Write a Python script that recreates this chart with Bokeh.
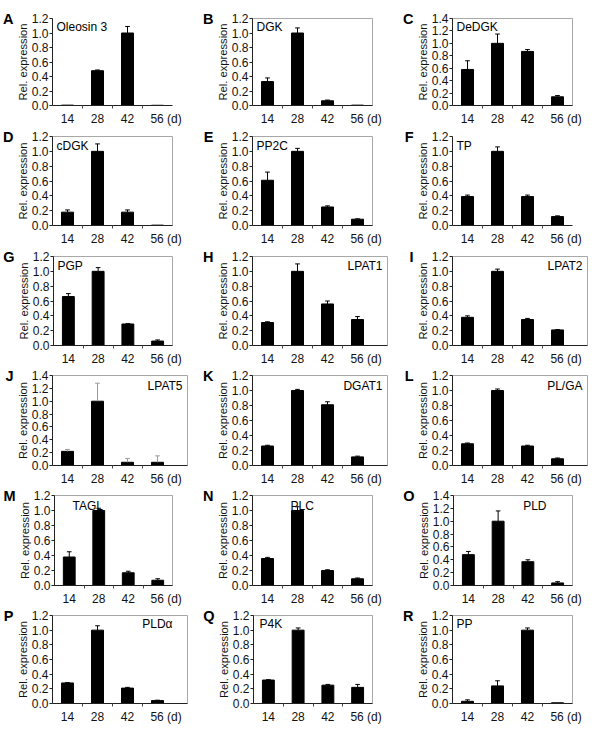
from bokeh.plotting import figure
from bokeh.layouts import column, row
from bokeh.models import FixedTicker, PrintfTickFormatter, Label, Range1d, LinearAxis
from bokeh.embed import file_html
from bokeh.resources import INLINE

days = [14, 28, 42, 56]
minor_days = [21, 35, 49]
day_unit = "(d)"
panel_letters = ["A", "B", "C", "D", "E", "F", "G", "H", "I",
                 "J", "K", "L", "M", "N", "O", "P", "Q", "R"]
gene_names = ["Oleosin 3", "DGK", "DeDGK", "cDGK", "PP2C", "TP", "PGP", "LPAT1", "LPAT2",
              "LPAT5", "DGAT1", "PL/GA", "TAGL", "PLC", "PLD", "PLDα", "P4K", "PP"]
y_max = [1.2, 1.2, 1.4, 1.2, 1.2, 1.2, 1.2, 1.2, 1.2,
         1.4, 1.2, 1.2, 1.2, 1.2, 1.4, 1.2, 1.2, 1.2]

oleosin3_mean = [0.005, 0.48, 1.0, 0.003]
oleosin3_err = [0.0, 0.01, 0.09, 0.0]
dgk_mean = [0.33, 1.0, 0.065, 0.005]
dgk_err = [0.05, 0.07, 0.01, 0.0]
dedgk_mean = [0.58, 1.0, 0.87, 0.14]
dedgk_err = [0.14, 0.15, 0.03, 0.02]
cdgk_mean = [0.18, 1.0, 0.18, 0.005]
cdgk_err = [0.03, 0.10, 0.03, 0.0]
pp2c_mean = [0.61, 1.0, 0.25, 0.085]
pp2c_err = [0.11, 0.04, 0.015, 0.005]
tp_mean = [0.39, 1.0, 0.39, 0.12]
tp_err = [0.02, 0.06, 0.02, 0.01]
pgp_mean = [0.66, 1.0, 0.29, 0.06]
pgp_err = [0.04, 0.05, 0.005, 0.015]
lpat1_mean = [0.31, 1.0, 0.56, 0.35]
lpat1_err = [0.01, 0.10, 0.04, 0.04]
lpat2_mean = [0.38, 1.0, 0.35, 0.21]
lpat2_err = [0.02, 0.03, 0.015, 0.005]
lpat5_mean = [0.22, 1.0, 0.05, 0.05]
lpat5_err = [0.03, 0.28, 0.06, 0.10]
dgat1_mean = [0.26, 1.0, 0.81, 0.115]
dgat1_err = [0.01, 0.015, 0.04, 0.01]
plga_mean = [0.29, 1.0, 0.26, 0.09]
plga_err = [0.01, 0.02, 0.01, 0.01]
tagl_mean = [0.38, 1.0, 0.17, 0.07]
tagl_err = [0.07, 0.03, 0.02, 0.02]
plc_mean = [0.36, 1.0, 0.20, 0.09]
plc_err = [0.015, 0.05, 0.01, 0.01]
pld_mean = [0.48, 1.0, 0.37, 0.04]
pld_err = [0.05, 0.16, 0.03, 0.02]
plda_mean = [0.28, 1.0, 0.21, 0.04]
plda_err = [0.005, 0.06, 0.01, 0.005]
p4k_mean = [0.32, 1.0, 0.25, 0.22]
p4k_err = [0.005, 0.03, 0.01, 0.04]
pp_mean = [0.03, 0.24, 1.0, 0.01]
pp_err = [0.02, 0.07, 0.03, 0.0]

means = [oleosin3_mean, dgk_mean, dedgk_mean, cdgk_mean, pp2c_mean, tp_mean, pgp_mean,
         lpat1_mean, lpat2_mean, lpat5_mean, dgat1_mean, plga_mean, tagl_mean, plc_mean,
         pld_mean, plda_mean, p4k_mean, pp_mean]
errs = [oleosin3_err, dgk_err, dedgk_err, cdgk_err, pp2c_err, tp_err, pgp_err,
        lpat1_err, lpat2_err, lpat5_err, dgat1_err, plga_err, tagl_err, plc_err,
        pld_err, plda_err, p4k_err, pp_err]

# layout / style per panel
wide = [False, False, False, False, False, False, False, True, True,
        True, True, True, False, False, False, True, False, False]
label_side = ["l", "l", "l", "l", "l", "l", "l", "r", "r",
              "r", "r", "r", "l", "l", "r", "r", "l", "l"]
label_dx = [4, 4, 4, 4, 4, 4, 4, -5, -5, -5, -5, -5, 18, 38, -27, -15, 6, 4]
framed = [False, True, True, True, True, False, True, True, True,
          True, True, True, True, True, True, True, True, True]
err_color = ["black"] * 9 + ["#9a9a9a"] + ["black"] * 8

FONT = "Liberation Sans"
col_w = [200, 200, 196]
col_left = [52, 52, 52]
row_h = [128, 120, 120, 120, 120, 118]
row_top = [18, 8, 8, 7, 7, 7]
row_plot = [91, 92, 92, 92, 92, 92]
d_shift = 4  # shift of the last tick label so that "56" sits under its bar


def make_panel(i):
    c = i % 3
    r = i // 3
    left = col_left[c]
    pw = 135 if wide[i] else 120
    right = col_w[c] - left - pw
    h, top, ph = row_h[r], row_top[r], row_plot[r]
    bottom = h - top - ph
    ymax = y_max[i]
    p = figure(width=col_w[c], height=h,
               x_range=Range1d(7, 70 if wide[i] else 63), y_range=Range1d(0, ymax),
               output_backend="svg", toolbar_location=None,
               min_border_left=left, min_border_right=right,
               min_border_top=top, min_border_bottom=bottom)
    p.xgrid.visible = False
    p.ygrid.visible = False
    p.outline_line_color = "#a8a8a8" if framed[i] else None
    p.background_fill_color = "white"
    p.border_fill_color = "white"

    m = means[i]
    e = errs[i]
    p.vbar(x=days, top=m, width=5.6, bottom=0, color="black")
    xs = [d for d, ee in zip(days, e) if ee > 0]
    y0 = [mm for mm, ee in zip(m, e) if ee > 0]
    y1 = [mm + ee for mm, ee in zip(m, e) if ee > 0]
    p.segment(x0=xs, y0=y0, x1=xs, y1=y1, line_color=err_color[i], line_width=1)
    p.segment(x0=[x - 1.1 for x in xs], y0=y1, x1=[x + 1.1 for x in xs], y1=y1,
              line_color=err_color[i], line_width=1)

    nt = int(round(ymax / 0.2))
    p.yaxis.ticker = FixedTicker(ticks=[round(k * 0.2, 1) for k in range(nt + 1)])
    p.yaxis.formatter = PrintfTickFormatter(format="%.1f")
    p.yaxis.major_tick_out = 3
    p.yaxis.major_tick_in = 0
    p.yaxis.minor_tick_out = 0
    p.yaxis.minor_tick_in = 0
    p.yaxis.major_label_standoff = 1
    p.yaxis.axis_label = "Rel. expression"
    p.yaxis.axis_label_text_font = FONT
    p.yaxis.axis_label_text_font_size = "11.2px"
    p.yaxis.axis_label_text_font_style = "normal"
    p.yaxis.axis_label_text_color = "#111111"
    p.yaxis.axis_label_standoff = 0

    last = days[-1] + d_shift
    p.xaxis.ticker = FixedTicker(ticks=days[:-1] + [last], minor_ticks=minor_days)
    p.xaxis.major_label_overrides = {last: f"{days[-1]} {day_unit}"}
    p.xaxis.major_tick_out = 0
    p.xaxis.major_tick_in = 0
    p.xaxis.minor_tick_out = 3
    p.xaxis.minor_tick_in = 0
    p.xaxis.major_label_standoff = 3

    for ax in (p.xaxis, p.yaxis):
        ax.major_label_text_font = FONT
        ax.major_label_text_font_size = "12px"
        ax.major_label_text_color = "#111111"
        ax.axis_line_color = "#222222"
        ax.major_tick_line_color = "#222222"
        ax.minor_tick_line_color = "#444444"

    # panel letter carried by an extra, otherwise invisible, left axis
    lax = LinearAxis(ticker=FixedTicker(ticks=[]), axis_label=panel_letters[i],
                     axis_line_color=None, major_tick_line_color=None,
                     minor_tick_line_color=None, major_label_text_font_size="0px",
                     axis_label_text_font=FONT, axis_label_text_font_size="14.5px",
                     axis_label_text_font_style="bold", axis_label_text_color="black",
                     axis_label_standoff=0, axis_label_orientation="horizontal",
                     axis_label_align="end", axis_label_text_baseline="top")
    p.add_layout(lax, "left")

    if label_side[i] == "l":
        gx, ga = label_dx[i], "left"
    else:
        gx, ga = pw + label_dx[i], "right"
    p.add_layout(Label(x=gx, y=ph - 5.5, x_units="screen", y_units="screen",
                       text=gene_names[i], text_font=FONT, text_font_size="12px",
                       text_baseline="top", text_align=ga, text_color="black"))
    return p


figs = [make_panel(i) for i in range(18)]
layout = column(*[row(*figs[r * 3:(r + 1) * 3]) for r in range(6)])

open("out.html", "w").write(file_html(layout, INLINE))
